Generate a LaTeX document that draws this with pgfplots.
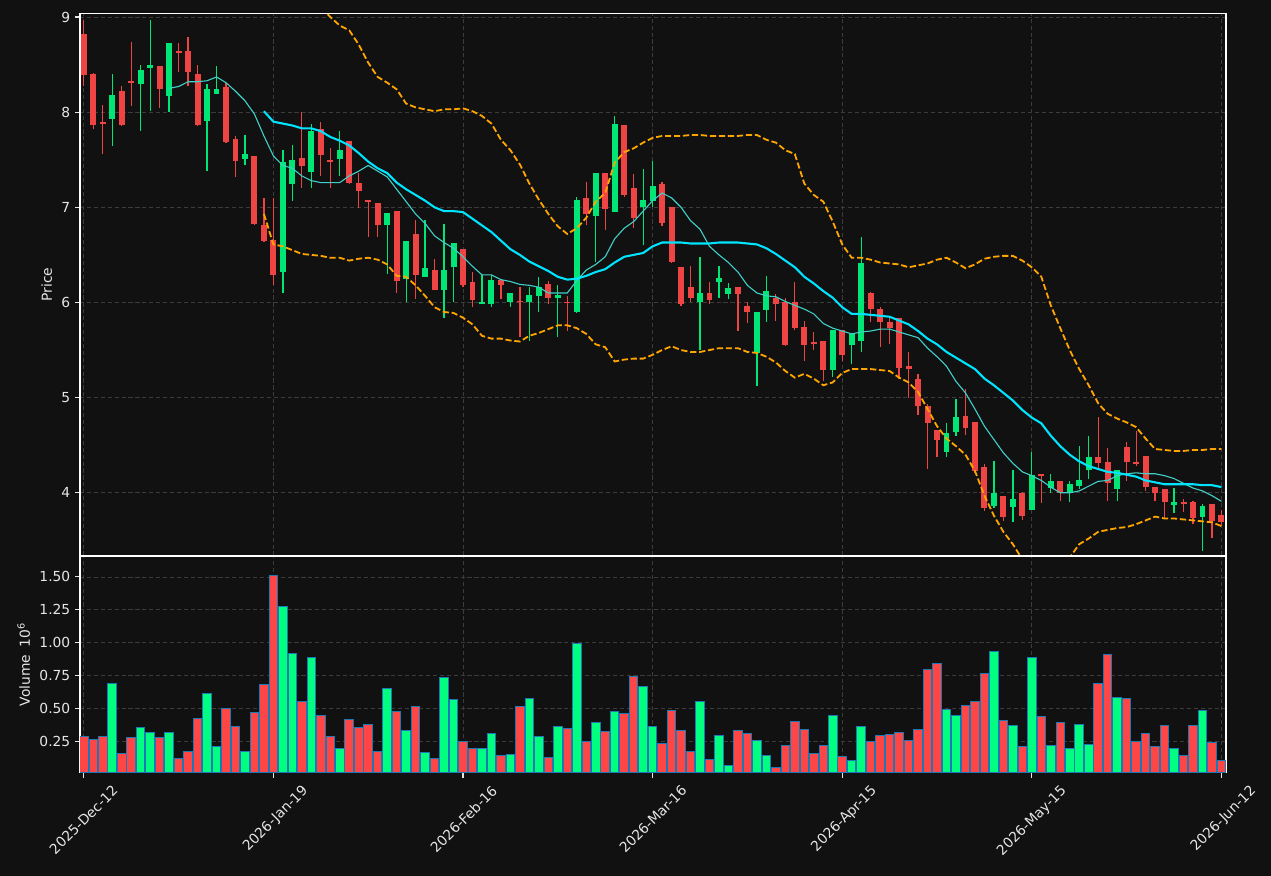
\documentclass[border=0pt]{standalone}
\usepackage{fontspec}
\setmainfont{DejaVu Sans}
\usepackage{pgfplots}
\pgfplotsset{compat=1.18}
\usepackage{pgfplotstable}
\definecolor{bg}{HTML}{111111}
\definecolor{cup}{HTML}{00E676}
\definecolor{cdn}{HTML}{EF4444}
\definecolor{vup}{HTML}{00FF80}
\definecolor{vdn}{HTML}{FF4646}
\definecolor{vedge}{HTML}{1F77B4}
\definecolor{gridc}{HTML}{3C3C3C}
\definecolor{txt}{HTML}{E6E6E6}
\definecolor{ma20c}{HTML}{00E5FF}
\definecolor{ma10c}{HTML}{40D0C8}
\definecolor{bbc}{HTML}{FFA500}

% down (red) candles: index open high low close volume(1e6)
\pgfplotstableread{
i o h l c v
0 8.82 8.97 8.28 8.39 0.29
1 8.40 8.41 7.82 7.86 0.265
2 7.90 8.08 7.56 7.88 0.29
4 8.22 8.28 7.85 7.86 0.16
5 8.33 8.74 8.06 8.31 0.28
8 8.48 8.48 8.04 8.24 0.28
10 8.64 8.73 8.42 8.62 0.126
11 8.64 8.79 8.28 8.42 0.174
12 8.40 8.50 7.85 7.86 0.424
15 8.26 8.31 7.68 7.69 0.50
16 7.72 7.75 7.32 7.49 0.364
18 7.54 7.54 6.81 6.82 0.47
19 6.81 7.10 6.64 6.65 0.682
20 6.66 7.10 6.18 6.29 1.508
23 7.52 8.00 7.20 7.43 0.553
25 7.82 7.90 7.33 7.55 0.447
26 7.50 7.62 7.20 7.48 0.29
28 7.70 7.70 7.25 7.26 0.417
29 7.26 7.36 6.99 7.17 0.355
30 7.08 7.08 6.69 7.06 0.379
31 7.05 7.05 6.69 6.81 0.174
33 6.96 6.96 6.10 6.23 0.477
35 6.72 6.87 6.04 6.29 0.515
37 6.34 6.46 6.13 6.13 0.126
40 6.56 6.56 6.16 6.18 0.25
41 6.21 6.32 5.95 6.03 0.197
44 6.24 6.24 6.04 6.18 0.144
46 6.02 6.16 5.64 6.00 0.515
49 6.19 6.23 5.98 6.05 0.129
51 6.01 6.07 5.70 5.99 0.348
53 7.10 7.27 6.81 6.93 0.25
55 7.36 7.36 6.76 6.98 0.326
57 7.86 7.86 7.11 7.13 0.462
58 7.20 7.35 6.78 6.89 0.742
61 7.25 7.27 6.80 6.84 0.235
62 7.00 7.00 6.42 6.43 0.485
63 6.37 6.37 5.96 5.98 0.333
64 6.16 6.38 6.01 6.05 0.174
66 6.10 6.22 5.98 6.03 0.114
69 6.16 6.16 5.70 6.09 0.333
70 5.96 6.00 5.78 5.90 0.311
73 6.05 6.09 5.81 5.98 0.053
74 6.00 6.05 5.54 5.55 0.22
75 6.00 6.22 5.71 5.73 0.402
76 5.74 5.81 5.39 5.55 0.341
77 5.58 5.69 5.50 5.56 0.159
78 5.59 5.59 5.17 5.29 0.22
80 5.71 5.71 5.39 5.45 0.136
83 6.10 6.11 5.80 5.93 0.25
84 5.93 5.95 5.53 5.79 0.295
85 5.80 5.84 5.56 5.73 0.303
86 5.84 5.84 5.20 5.31 0.318
87 5.33 5.48 5.00 5.30 0.258
88 5.20 5.25 4.82 4.91 0.341
89 4.91 4.93 4.25 4.73 0.795
90 4.66 4.66 4.38 4.55 0.841
93 4.81 5.09 4.61 4.68 0.523
94 4.74 4.74 4.21 4.23 0.553
95 4.27 4.30 3.81 3.84 0.765
97 3.97 3.97 3.70 3.75 0.409
99 4.00 4.01 3.71 3.76 0.212
101 4.20 4.20 3.89 4.18 0.439
103 4.12 4.12 3.91 4.00 0.394
107 4.38 4.80 4.24 4.31 0.689
108 4.32 4.47 3.91 4.10 0.909
110 4.48 4.53 4.12 4.32 0.576
111 4.32 4.65 4.28 4.30 0.25
112 4.39 4.39 4.02 4.06 0.311
113 4.06 4.06 3.91 4.00 0.212
114 4.04 4.04 3.72 3.90 0.371
116 3.90 3.94 3.80 3.88 0.144
117 3.90 3.91 3.67 3.73 0.371
119 3.88 3.88 3.53 3.70 0.242
120 3.77 3.82 3.65 3.69 0.106
}\dn

% up (green) candles
\pgfplotstableread{
i o h l c v
3 7.93 8.40 7.64 8.18 0.69
6 8.30 8.50 7.80 8.44 0.355
7 8.46 8.97 8.01 8.50 0.32
9 8.17 8.73 8.00 8.73 0.32
13 7.91 8.30 7.38 8.24 0.614
14 8.19 8.48 8.19 8.24 0.217
17 7.51 7.76 7.44 7.56 0.174
21 6.32 7.60 6.10 7.48 1.273
22 7.24 7.66 7.07 7.50 0.922
24 7.37 7.88 7.20 7.80 0.891
27 7.51 7.80 7.33 7.60 0.202
32 6.81 6.94 6.30 6.94 0.652
34 6.25 6.65 6.00 6.65 0.333
36 6.27 6.87 6.27 6.36 0.167
38 6.13 6.82 5.84 6.34 0.735
39 6.37 6.63 6.00 6.63 0.568
42 5.98 6.29 5.98 6.005 0.197
43 5.98 6.29 5.95 6.24 0.311
45 6.00 6.10 5.95 6.10 0.152
47 6.00 6.16 5.59 6.08 0.576
48 6.07 6.27 5.90 6.16 0.288
50 6.05 6.18 5.64 6.08 0.364
52 5.90 7.11 5.89 7.08 0.992
54 6.91 7.36 6.43 7.36 0.394
56 6.95 7.96 6.95 7.88 0.482
59 7.00 7.40 6.60 7.08 0.667
60 7.07 7.49 7.00 7.22 0.364
65 6.00 6.48 5.50 6.10 0.553
67 6.21 6.38 6.05 6.26 0.295
68 6.09 6.20 6.04 6.15 0.073
71 5.47 5.90 5.12 5.90 0.258
72 5.92 6.28 5.80 6.12 0.144
79 5.29 5.71 5.22 5.71 0.447
81 5.55 5.67 5.35 5.67 0.106
82 5.59 6.69 5.48 6.42 0.364
91 4.43 4.73 4.38 4.63 0.492
92 4.64 4.99 4.60 4.80 0.447
96 3.86 4.33 3.84 4.00 0.932
98 3.85 4.24 3.69 3.93 0.371
100 3.82 4.43 3.82 4.19 0.886
102 4.05 4.20 4.00 4.12 0.22
104 4.00 4.12 3.90 4.09 0.197
105 4.07 4.49 4.04 4.13 0.379
106 4.24 4.60 4.15 4.38 0.227
109 4.04 4.24 3.91 4.24 0.583
115 3.87 4.05 3.79 3.90 0.197
118 3.75 3.88 3.39 3.86 0.485
}\up

% 10-period moving average (thin line)
\pgfplotstableread{
i m
9 8.25
10 8.27
11 8.32
12 8.32
13 8.33
14 8.37
15 8.31
16 8.22
17 8.12
18 7.98
19 7.75
20 7.54
21 7.44
22 7.41
23 7.33
24 7.28
25 7.26
26 7.26
27 7.26
28 7.33
29 7.38
30 7.44
31 7.38
32 7.32
33 7.19
34 7.06
35 6.93
36 6.83
37 6.70
38 6.63
39 6.57
40 6.48
41 6.38
42 6.29
43 6.29
44 6.24
45 6.22
46 6.19
47 6.18
48 6.16
49 6.10
50 6.10
51 6.10
52 6.23
53 6.34
54 6.40
55 6.48
56 6.67
57 6.78
58 6.85
59 6.96
60 7.07
61 7.15
62 7.10
63 7.00
64 6.86
65 6.77
66 6.59
67 6.50
68 6.42
69 6.32
70 6.18
71 6.10
72 6.07
73 6.06
74 6.01
75 5.97
76 5.93
77 5.88
78 5.78
79 5.73
80 5.70
81 5.67
82 5.69
83 5.70
84 5.72
85 5.72
86 5.69
87 5.66
88 5.63
89 5.52
90 5.43
91 5.33
92 5.17
93 5.05
94 4.88
95 4.70
96 4.56
97 4.42
98 4.31
99 4.22
100 4.18
101 4.13
102 4.06
103 4.00
104 4.00
105 4.02
106 4.07
107 4.12
108 4.13
109 4.18
110 4.20
111 4.21
112 4.20
113 4.20
114 4.18
115 4.15
116 4.10
117 4.05
118 4.02
119 3.97
120 3.91
}\maten

% 20-period moving average with upper and lower bands
\pgfplotstableread{
i m u l
19 8.01 9.09 6.93
20 7.90 9.19 6.61
21 7.88 9.17 6.59
22 7.86 9.17 6.55
23 7.83 9.15 6.51
24 7.83 9.15 6.50
25 7.80 9.10 6.49
26 7.74 9.00 6.47
27 7.70 8.91 6.47
28 7.65 8.86 6.44
29 7.57 8.71 6.46
30 7.48 8.52 6.47
31 7.41 8.37 6.45
32 7.36 8.31 6.40
33 7.26 8.24 6.28
34 7.19 8.09 6.27
35 7.13 8.05 6.18
36 7.07 8.03 6.07
37 7.00 8.01 5.95
38 6.96 8.03 5.90
39 6.96 8.03 5.89
40 6.95 8.04 5.84
41 6.88 8.01 5.77
42 6.81 7.96 5.65
43 6.74 7.88 5.62
44 6.65 7.71 5.62
45 6.56 7.60 5.60
46 6.50 7.45 5.59
47 6.43 7.25 5.65
48 6.38 7.08 5.68
49 6.33 6.93 5.72
50 6.27 6.80 5.76
51 6.24 6.72 5.76
52 6.25 6.78 5.73
53 6.28 6.89 5.67
54 6.32 7.06 5.56
55 6.35 7.15 5.53
56 6.42 7.47 5.38
57 6.48 7.58 5.40
58 6.50 7.62 5.41
59 6.52 7.68 5.41
60 6.59 7.73 5.45
61 6.63 7.75 5.50
62 6.63 7.75 5.54
63 6.63 7.75 5.50
64 6.62 7.76 5.48
65 6.62 7.76 5.48
66 6.62 7.75 5.50
67 6.63 7.75 5.52
68 6.63 7.75 5.52
69 6.63 7.75 5.52
70 6.62 7.76 5.48
71 6.61 7.76 5.47
72 6.57 7.71 5.43
73 6.51 7.68 5.37
74 6.44 7.60 5.28
75 6.37 7.56 5.21
76 6.27 7.25 5.25
77 6.20 7.13 5.20
78 6.12 7.06 5.13
79 6.05 6.85 5.16
80 5.95 6.61 5.26
81 5.88 6.47 5.30
82 5.88 6.47 5.30
83 5.87 6.45 5.30
84 5.86 6.42 5.29
85 5.85 6.41 5.28
86 5.81 6.40 5.21
87 5.77 6.37 5.16
88 5.70 6.39 5.06
89 5.62 6.41 4.88
90 5.56 6.45 4.70
91 5.48 6.47 4.57
92 5.42 6.42 4.49
93 5.36 6.36 4.40
94 5.30 6.40 4.23
95 5.20 6.46 3.97
96 5.13 6.48 3.76
97 5.05 6.49 3.59
98 4.97 6.49 3.46
99 4.87 6.44 3.30
100 4.79 6.37 3.21
101 4.73 6.27 3.19
102 4.60 5.97 3.23
103 4.49 5.73 3.25
104 4.40 5.50 3.32
105 4.33 5.30 3.46
106 4.28 5.13 3.52
107 4.25 4.94 3.59
108 4.22 4.83 3.61
109 4.21 4.78 3.63
110 4.19 4.74 3.64
111 4.17 4.69 3.67
112 4.13 4.57 3.71
113 4.11 4.46 3.75
114 4.09 4.45 3.73
115 4.09 4.44 3.73
116 4.09 4.44 3.72
117 4.09 4.45 3.71
118 4.08 4.45 3.70
119 4.08 4.46 3.69
120 4.06 4.46 3.65
}\matw

\pgfplotsset{
  candlebase/.style={
    scale only axis, width=828.2pt,
    xmin=-0.4, xmax=120.48,
    axis background/.style={fill=bg},
    axis line style={white, line width=0.9pt},
    grid=major,
    grid style={gridc, dash pattern=on 3pt off 2pt, line width=0.6pt},
    tick style={txt, line width=0.8pt},
    tick align=outside, major tick length=3.5pt, tick pos=left,
    ticklabel style={font=\fontsize{10}{12}\selectfont, text=txt},
    label style={font=\fontsize{10}{12}\selectfont, text=txt},
    xtick={0,20,40,60,80,100,120},
    /pgf/number format/assume math mode=true,
  },
}

\begin{document}
\begin{tikzpicture}
\useasboundingbox (0,0) rectangle (918.55pt,-633.09pt);
\fill[bg] (0,0) rectangle (918.55pt,-633.09pt);

\begin{axis}[candlebase,
  at={(57.82pt,-9.54pt)}, anchor=north west, height=392.0pt,
  ymin=3.34, ymax=9.04,
  ytick={4,5,6,7,8,9}, yticklabels={4,5,6,7,8,9},
  xticklabels={}, xtick style={draw=none},
  ylabel={Price},
]
% wicks
\addplot[cdn, line width=0.9pt, quiver={u=0,v=\thisrow{h}-\thisrow{l}}] table[x=i,y=l]{\dn};
\addplot[cup, line width=0.9pt, quiver={u=0,v=\thisrow{h}-\thisrow{l}}] table[x=i,y=l]{\up};
% bodies
\addplot[cdn, line width=4.3pt, quiver={u=0,v=\thisrow{o}-\thisrow{c}}] table[x=i,y=c]{\dn};
\addplot[cup, line width=4.3pt, quiver={u=0,v=\thisrow{c}-\thisrow{o}}] table[x=i,y=o]{\up};
% averages and bands
\addplot[ma10c, line width=0.8pt] table[x=i,y=m]{\maten};
\addplot[ma20c, line width=1.5pt] table[x=i,y=m]{\matw};
\addplot[bbc, line width=1.3pt, dash pattern=on 4.5pt off 2pt] table[x=i,y=u]{\matw};
\addplot[bbc, line width=1.3pt, dash pattern=on 4.5pt off 2pt] table[x=i,y=l]{\matw};
\end{axis}

\begin{axis}[candlebase,
  at={(57.82pt,-401.8pt)}, anchor=north west, height=156.6pt,
  ymin=0.015, ymax=1.659,
  ytick={0.25,0.5,0.75,1,1.25,1.5},
  yticklabels={0.25,0.50,0.75,1.00,1.25,1.50},
  xticklabels={2025-Dec-12,2026-Jan-19,2026-Feb-16,2026-Mar-16,2026-Apr-15,2026-May-15,2026-Jun-12},
  xticklabel style={xshift=20pt, rotate=45, anchor=north east},
  ylabel={Volume\hspace{0.55em}10\textsuperscript{6}},
]
\addplot[ybar, bar width=0.9, bar shift=0pt, fill=vdn, draw=vedge, line width=0.7pt] table[x=i,y=v]{\dn};
\addplot[ybar, bar width=0.9, bar shift=0pt, fill=vup, draw=vedge, line width=0.7pt] table[x=i,y=v]{\up};
\end{axis}
\end{tikzpicture}
\end{document}
